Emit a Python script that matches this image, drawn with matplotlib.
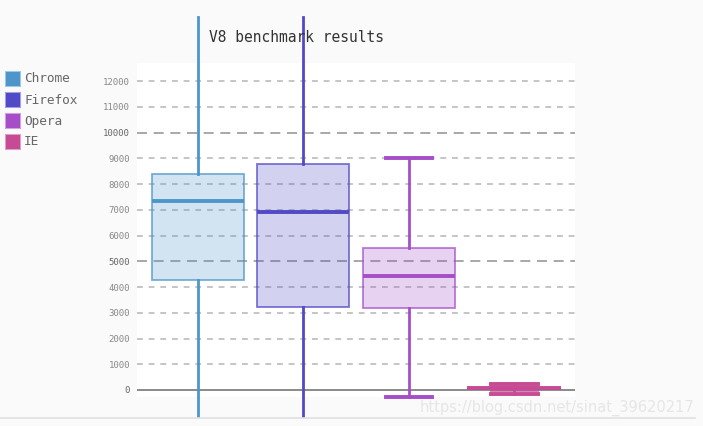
import matplotlib.pyplot as plt
from matplotlib.patches import Rectangle

# box statistics
browsers = ["Chrome", "Firefox", "Opera", "IE"]
q1 = [4270, 3220, 3180, -30]
med = [7340, 6910, 4430, 60]
q3 = [8390, 8780, 5510, 110]
whis_lo = [-1010, -1010, -272, -140]
whis_hi = [14485, 14485, 9010, 240]
colors = ["#4d96c9", "#5149c5", "#a64ec8", "#c64a94"]
yticks = list(range(0, 13000, 1000))

fig = plt.figure(figsize=(7.03, 4.26), dpi=100)
fig.patch.set_facecolor("#fafafa")
ax = fig.add_axes([137 / 703, 1 - 397 / 426, 438 / 703, 334 / 426])
ax.set_facecolor("white")
ax.set_xlim(-0.575, 3.575)
ax.set_ylim(-272, 12700)

for t in yticks:
    if t == 0:
        ax.axhline(t, color="#777777", lw=1.2, zorder=1)
    elif t % 5000 == 0:
        ax.axhline(t, color="#999999", lw=1.2, ls=(0, (6, 4)), zorder=1)
    else:
        ax.axhline(t, color="#bbbbbb", lw=1.2, ls=(0, (3.5, 3.5)), zorder=1)

stats = []
for i in range(len(browsers)):
    stats.append({"med": med[i], "q1": q1[i], "q3": q3[i],
                  "whislo": whis_lo[i], "whishi": whis_hi[i], "label": browsers[i]})
widths = [0.873, 0.873, 0.873, 0.44]
res = ax.bxp(stats, positions=range(4), widths=widths, showfliers=False,
             patch_artist=True, capwidths=[0.44, 0.44, 0.44, 0.44])
for i, c in enumerate(colors):
    b = res["boxes"][i]
    b.set_facecolor(c)
    b.set_alpha(None)
    b.set_facecolor((*plt.matplotlib.colors.to_rgb(c), 0.25))
    b.set_edgecolor((*plt.matplotlib.colors.to_rgb(c), 0.75))
    b.set_linewidth(1.3)
    res["medians"][i].set_color(c)
    res["medians"][i].set_linewidth(2.8)
    for w in res["whiskers"][2 * i:2 * i + 2]:
        w.set_color(c)
        w.set_linewidth(2)
        w.set_clip_on(False)
    for cp in res["caps"][2 * i:2 * i + 2]:
        cp.set_color(c)
        cp.set_linewidth(2.8)
        cp.set_clip_on(False)
    if i < 2:
        for cp in res["caps"][2 * i:2 * i + 2]:
            cp.set_visible(False)
# IE median spans the full box width
ax.hlines(med[3], 3 - 0.445, 3 + 0.445, color=colors[3], lw=2.8, zorder=3)

ax.set_xticks([])
ax.set_yticks(yticks)
ax.set_yticklabels([str(t) for t in yticks], family="DejaVu Sans Mono", fontsize=6.5)
for t, lab in zip(yticks, ax.get_yticklabels()):
    lab.set_color("#666666" if t % 5000 == 0 else "#888888")
ax.tick_params(axis="y", length=0, pad=5)
for s in ax.spines.values():
    s.set_visible(False)

fig.text(296.5 / 703, 1 - 38 / 426, "V8 benchmark results", ha="center", va="center",
         family="DejaVu Sans Mono", fontsize=10.5, color="#333333")

for i, (name, c) in enumerate(zip(browsers, colors)):
    y = 79 + 21 * i
    fig.patches.append(Rectangle((6 / 703, 1 - (y + 7) / 426), 14 / 703, 14 / 426,
                                 transform=fig.transFigure, facecolor=c,
                                 edgecolor=(*plt.matplotlib.colors.to_rgb(c), 0.5), lw=1.5))
    fig.text(24 / 703, 1 - y / 426, name, ha="left", va="center",
             family="DejaVu Sans Mono", fontsize=9.2, color="#666666")

fig.add_artist(plt.Line2D([0, 695 / 703], [1 - 417.5 / 426] * 2, transform=fig.transFigure,
                          color="#e0e0e0", lw=1.2))
fig.text(694 / 703, 1 - 408 / 426, "https://blog.csdn.net/sinat_39620217", ha="right",
         va="center", fontsize=10.5, color="#e6e6e6")

fig.savefig("out.png", dpi=100, facecolor=fig.get_facecolor())
